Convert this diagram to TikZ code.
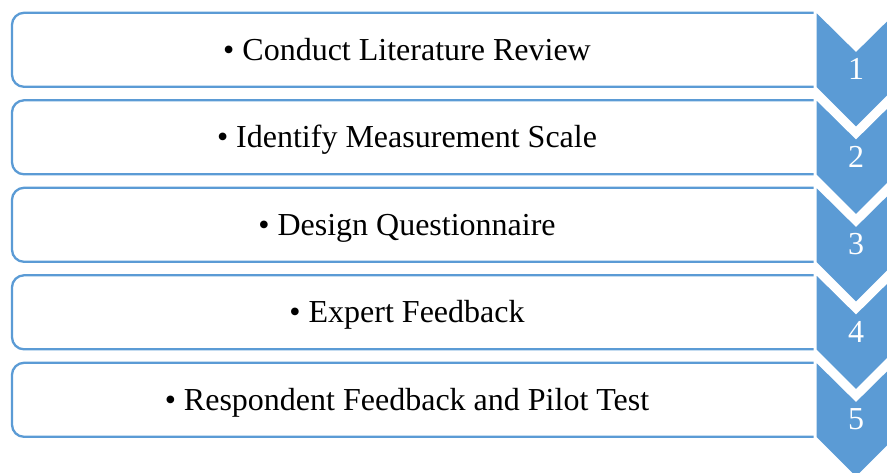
\documentclass[tikz,border=0pt]{standalone}
\usepackage{fontspec}
\setmainfont{Liberation Serif}
\definecolor{stepblue}{HTML}{5B9BD5}

\begin{document}
\begin{tikzpicture}[x=1pt,y=-1pt,font=\fontsize{32}{38}\selectfont]
      \useasboundingbox (0,0) rectangle (887,472);
      \clip (0,0) rectangle (887,472);
      % the five boxes, open on the right where the chevrons sit
      \begin{scope}[every path/.style={draw=stepblue,line width=2.3pt,rounded corners=12pt}]
        \path (816,12.8) -| (12,86.8) -- (816,86.8);
        \path (816,100.3) -| (12,174.3) -- (816,174.3);
        \path (816,187.8) -| (12,261.8) -- (816,261.8);
        \path (816,275.3) -| (12,349.3) -- (816,349.3);
        \path (816,362.8) -| (12,436.8) -- (816,436.8);
      \end{scope}
      \begin{scope}[every node/.style={inner sep=0pt,text height=21pt,text depth=0pt}]
        \node (lit) at (407,49.8) {• Conduct Literature Review};
        \node (scale) at (407,137.3) {• Identify Measurement Scale};
        \node (quest) at (407,224.8) {• Design Questionnaire};
        \node (expert) at (407,312.3) {• Expert Feedback};
        \node (pilot) at (407,399.8) {• Respondent Feedback and Pilot Test};
      \end{scope}
      % chevrons on the right, each one drawn over the one above
      \begin{scope}[every path/.style={fill=stepblue,draw=white,line width=3pt,line join=miter},
                    every node/.style={text=white,inner sep=0pt,text height=22pt,text depth=0pt}]
        \path (815,9.3) -- ++(41,40.5) -- ++(41,-40.5) -- ++(0,78.5) -- ++(-41,41) -- ++(-41,-41) -- cycle;
        \node (n1) at (856,68.8) {1};
        \path (815,96.8) -- ++(41,40.5) -- ++(41,-40.5) -- ++(0,78.5) -- ++(-41,41) -- ++(-41,-41) -- cycle;
        \node (n2) at (856,156.3) {2};
        \path (815,184.3) -- ++(41,40.5) -- ++(41,-40.5) -- ++(0,78.5) -- ++(-41,41) -- ++(-41,-41) -- cycle;
        \node (n3) at (856,243.8) {3};
        \path (815,271.8) -- ++(41,40.5) -- ++(41,-40.5) -- ++(0,78.5) -- ++(-41,41) -- ++(-41,-41) -- cycle;
        \node (n4) at (856,331.3) {4};
        \path (815,359.3) -- ++(41,40.5) -- ++(41,-40.5) -- ++(0,78.5) -- ++(-41,41) -- ++(-41,-41) -- cycle;
        \node (n5) at (856,418.8) {5};
      \end{scope}
    \end{tikzpicture}
\end{document}
